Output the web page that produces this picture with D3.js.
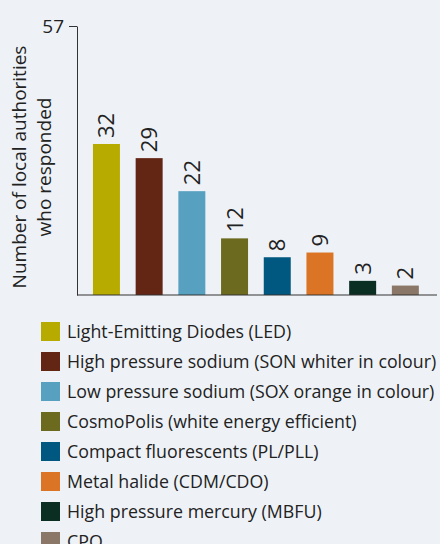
<!DOCTYPE html>
<html>
<head>
<meta charset="utf-8">
<script src="https://cdn.jsdelivr.net/npm/d3@7"></script>
<style>
  body { margin: 0; background: #eef2f7; }
  text { font-family: "Open Sans", sans-serif; fill: #222; }
</style>
</head>
<body>
<div id="chart"></div>
<script>
const categories = [
	'Light-Emitting Diodes (LED)',
	'High pressure sodium (SON whiter in colour)',
	'Low pressure sodium (SOX orange in colour)',
	'CosmoPolis (white energy efficient)',
	'Compact fluorescents (PL/PLL)',
	'Metal halide (CDM/CDO)',
	'High pressure mercury (MBFU)',
	'CPO',
];
const values = [32, 29, 22, 12, 8, 9, 3, 2];
const colors = ['#b8ab00', '#632514', '#57a0bf', '#6b6a1e', '#00577f', '#db7424', '#0b2e23', '#8b7767'];
const yTicks = [57];
const yTitle = ['Number of local authorities', 'who responded'];

const width = 440;
const height = 544;

const svg = d3.select('#chart').append('svg').attr('width', width).attr('height', height);

// Scales
const x = d3.scaleBand().domain(categories).range([71.6, 440.2]).paddingInner(0.368).paddingOuter(0.5);
const y = d3.scaleLinear().domain([0, 57]).range([295, 26]);

// Bars
svg
	.selectAll('.bar')
	.data(values)
	.enter()
	.append('rect')
	.attr('class', 'bar')
	.attr('x', (d, i) => x(categories[i]))
	.attr('y', (d) => y(d))
	.attr('width', x.bandwidth())
	.attr('height', (d) => y(0) - y(d))
	.attr('fill', (d, i) => colors[i]);

// Value labels, rotated
svg
	.selectAll('.val')
	.data(values)
	.enter()
	.append('text')
	.attr('class', 'val')
	.attr('transform', (d, i) => `translate(${x(categories[i]) + x.bandwidth() / 2 + 8},${y(d) - 6}) rotate(-90)`)
	.attr('font-size', 22)
	.text((d) => d);

// Y axis
const yAxis = svg
	.append('g')
	.attr('transform', 'translate(77,0)')
	.call(d3.axisLeft(y).tickValues(yTicks).tickSize(8).tickSizeOuter(0).tickPadding(5));
yAxis.select('.domain').attr('stroke', '#333');
yAxis.selectAll('.tick line').attr('stroke', '#333');
yAxis.selectAll('.tick text').attr('font-size', 19).attr('font-family', '"Open Sans", sans-serif').attr('fill', '#222');

// Baseline
svg.append('line').attr('x1', 77).attr('x2', 437).attr('y1', y(0)).attr('y2', y(0)).attr('stroke', '#333').attr('stroke-width', 1.2);

// Y title
svg
	.append('text')
	.attr('transform', 'translate(26,167) rotate(-90)')
	.attr('text-anchor', 'middle')
	.attr('font-size', 19)
	.selectAll('tspan')
	.data(yTitle)
	.enter()
	.append('tspan')
	.attr('x', 0)
	.attr('dy', (d, i) => (i === 0 ? 0 : 25))
	.text((d) => d);

// Legend
const legend = svg
	.selectAll('.legend')
	.data(categories)
	.enter()
	.append('g')
	.attr('class', 'legend')
	.attr('transform', (d, i) => `translate(41,${322 + i * 30})`);

legend.append('rect').attr('width', 19).attr('height', 19).attr('fill', (d, i) => colors[i]);
legend.append('text').attr('x', 26).attr('y', 16).attr('font-size', 17.8).text((d) => d);
</script>
</body>
</html>
